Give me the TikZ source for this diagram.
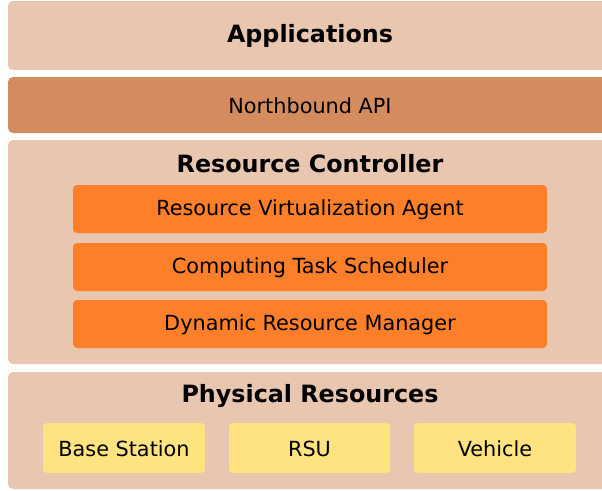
\documentclass[tikz,border=0pt]{standalone}
\usepackage{fontspec}
\setmainfont{DejaVu Sans}
\definecolor{layerc}{RGB}{232,198,176}
\definecolor{apic}{RGB}{212,140,94}
\definecolor{orc}{RGB}{254,127,42}
\definecolor{yelc}{RGB}{255,227,128}
\begin{document}
\begin{tikzpicture}[x=1pt,y=-1pt,
  layer/.style={fill=layerc,rounded corners=5pt},
  apibox/.style={fill=apic,rounded corners=5pt},
  modbox/.style={fill=orc,rounded corners=4pt},
  resbox/.style={fill=yelc,rounded corners=4pt},
  title/.style={font=\fontsize{23.8}{26}\selectfont\bfseries},
  lbl/.style={font=\fontsize{20.8}{24}\selectfont}]
\useasboundingbox (0,0) rectangle (602,490);
\clip (0,0) rectangle (602,490);
% layers
\fill[layer] (8,1) rectangle (612,70);
\fill[apibox] (8,77) rectangle (612,133);
\fill[layer] (8,140) rectangle (612,364);
\fill[layer] (8,372) rectangle (612,489);
\node[title] (app) at (310,35.5) {Applications};
\node[lbl] (api) at (310,106) {Northbound API};
\node[title] (rc) at (310,163.5) {Resource Controller};
\node[title] (pr) at (310,396.5) {Physical Resources};
% modules
\fill[modbox] (73,185) rectangle (547,233);
\fill[modbox] (73,243) rectangle (547,291);
\fill[modbox] (73,300) rectangle (547,348);
\node[lbl] (rva) at (310,210) {Resource Virtualization Agent};
\node[lbl] (cts) at (310,268) {Computing Task Scheduler};
\node[lbl] (drm) at (310,325) {Dynamic Resource Manager};
% resources
\fill[resbox] (43,423) rectangle (205,473);
\fill[resbox] (229,423) rectangle (390,473);
\fill[resbox] (414,423) rectangle (576,473);
\node[lbl] (bs) at (124,449) {Base Station};
\node[lbl] (rsu) at (309.5,449) {RSU};
\node[lbl] (veh) at (495,449) {Vehicle};
\end{tikzpicture}
\end{document}
